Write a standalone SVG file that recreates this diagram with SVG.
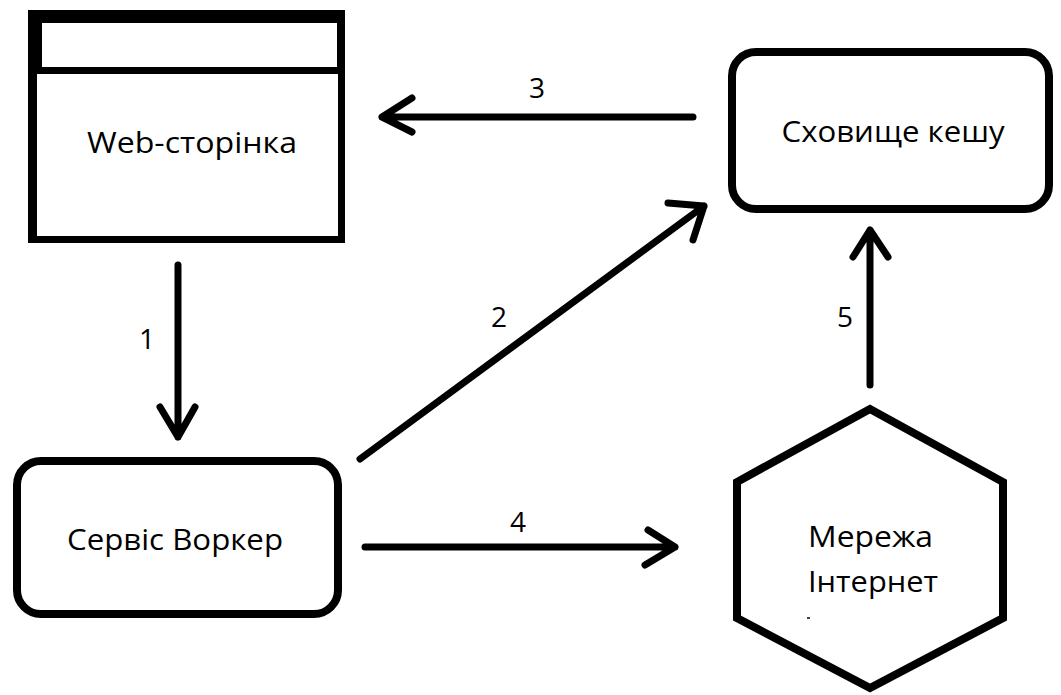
<svg xmlns="http://www.w3.org/2000/svg" width="1061" height="695" viewBox="0 0 1061 695">
<style>
.box{fill:#fff;stroke:#000;stroke-width:8}
.lbl{font-family:"Open Sans","Noto Sans","Liberation Sans",sans-serif;font-size:29px;fill:#000;text-anchor:middle}
.num{font-family:"Open Sans","Noto Sans","Liberation Sans",sans-serif;font-size:28px;fill:#000;text-anchor:middle}
.edge{fill:none;stroke:#000;stroke-width:7;stroke-linecap:round;stroke-linejoin:round}
</style>
<rect width="1061" height="695" fill="#fff"/>
<g id="web-page">
<path d="M28,10 H345 V243 H28 Z M42,23 V67 H337 V23 Z M37,74 V236 H338 V74 Z" fill="#000" fill-rule="evenodd"/>
<text class="lbl" x="192" y="153" textLength="210" lengthAdjust="spacingAndGlyphs">Web-сторінка</text>
</g>
<g id="cache-storage">
<rect class="box" x="732" y="52" width="317" height="157" rx="24"/>
<text class="lbl" x="893" y="142" textLength="223" lengthAdjust="spacingAndGlyphs">Сховище кешу</text>
</g>
<g id="service-worker">
<rect class="box" x="17" y="461" width="321" height="153" rx="24"/>
<text class="lbl" x="175" y="550" textLength="216" lengthAdjust="spacingAndGlyphs">Сервіс Воркер</text>
</g>
<g id="internet">
<polygon class="box" points="870,409 737,482 737,618 870,688 1003,618 1003,482"/>
<text class="lbl" x="808" y="547" style="text-anchor:start" textLength="125" lengthAdjust="spacingAndGlyphs">Мережа</text>
<text class="lbl" x="808" y="592" style="text-anchor:start" textLength="130" lengthAdjust="spacingAndGlyphs">Інтернет</text>
<rect x="807" y="617" width="3" height="2" fill="#444"/>
</g>
<g id="connectors">
<path class="edge" d="M178,265 V437 M160,407 L178,437 L195,407"/>
<text class="num" x="147" y="349">1</text>
<path class="edge" d="M360,459 L704,206 M668,203 L704,206 L693,240"/>
<text class="num" x="499" y="327">2</text>
<path class="edge" d="M693,117 H382 M412,98 L382,117 L412,132"/>
<text class="num" x="537" y="98">3</text>
<path class="edge" d="M365,547 H675 M648,530 L675,547 L645,565"/>
<text class="num" x="518" y="532">4</text>
<path class="edge" d="M870,385 V230 M853,257 L870,230 L888,257"/>
<text class="num" x="845" y="327">5</text>
</g>
</svg>
